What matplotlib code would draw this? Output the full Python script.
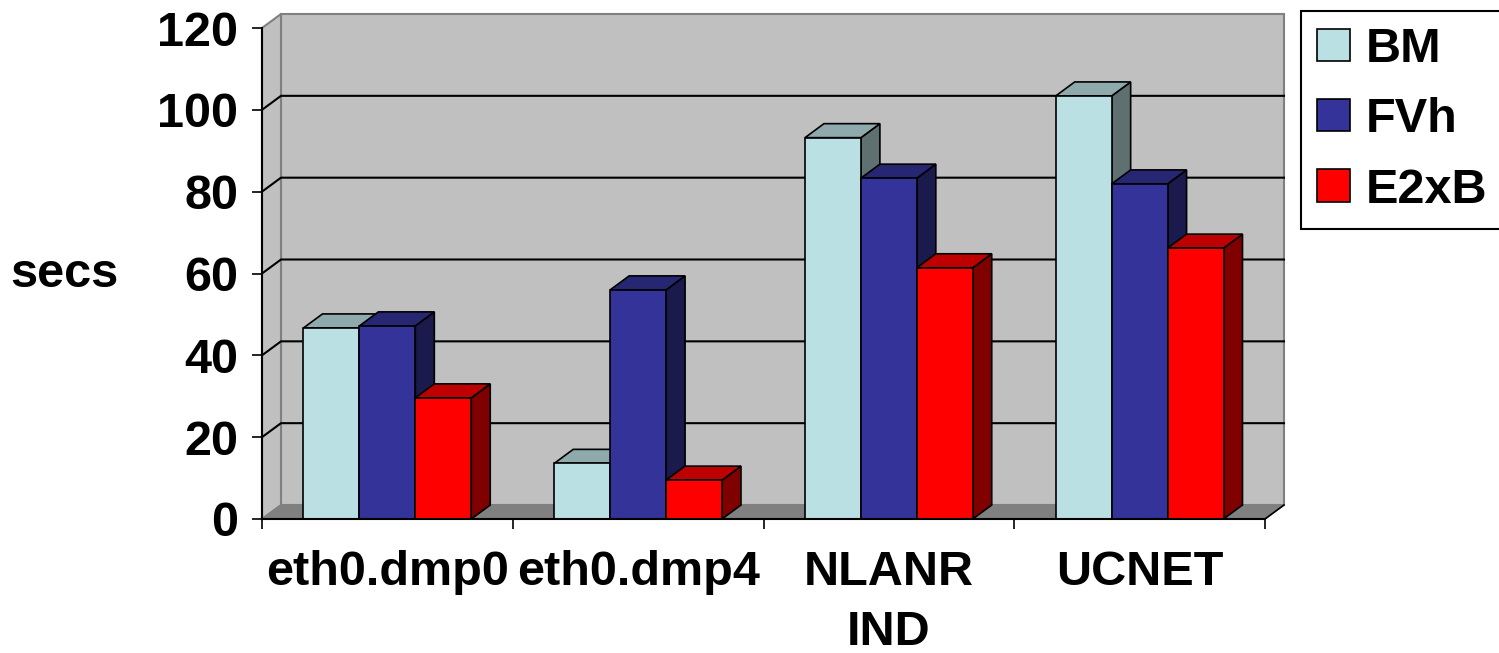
import numpy as np
import matplotlib.pyplot as plt
from matplotlib.patches import Polygon

categories = ['eth0.dmp0', 'eth0.dmp4', 'NLANR\nIND', 'UCNET']
series = ['BM', 'FVh', 'E2xB']
bm = [46.7, 13.6, 93.2, 103.4]
fvh = [47.2, 56.0, 83.3, 81.9]
e2xb = [29.6, 9.5, 61.4, 66.2]
yticks = [0, 20, 40, 60, 80, 100, 120]

front_col = ['#BBE0E3', '#333399', '#FF0000']
top_col = ['#8FAAAD', '#262673', '#BF0000']
side_col = ['#5F7070', '#1A1A4D', '#800000']

plt.rcParams['font.family'] = ['Liberation Sans', 'DejaVu Sans']
plt.rcParams['font.weight'] = 'bold'
plt.rcParams['axes.labelweight'] = 'bold'
plt.rcParams['font.size'] = 35

fig = plt.figure(figsize=(14.99, 6.53), dpi=100)
ax = fig.add_axes([262 / 1499, 1 - 519 / 653, 1003 / 1499, 491 / 653])
ax.set_xlim(-0.5, 3.5)
ax.set_ylim(0, 120)
ax.patch.set_visible(False)

# depth of the fake 3d box, in data units
dx, dy = 0.0757, 3.42
x0, x1 = -0.5, 3.5
ymax = yticks[-1]

# back wall, side wall, floor
ax.add_patch(Polygon([(x0 + dx, dy), (x1 + dx, dy), (x1 + dx, ymax + dy), (x0 + dx, ymax + dy)],
                     fc='#C0C0C0', ec='#808080', lw=1.5, clip_on=False, zorder=0.5))
ax.add_patch(Polygon([(x0, 0), (x0 + dx, dy), (x0 + dx, ymax + dy), (x0, ymax)],
                     fc='#C0C0C0', ec='#808080', lw=1.5, clip_on=False, zorder=0.5))
ax.add_patch(Polygon([(x0, 0), (x1, 0), (x1 + dx, dy), (x0 + dx, dy)],
                     fc='#808080', ec='#808080', lw=1, clip_on=False, zorder=0.55))
ax.plot([x1, x1 + dx], [0, dy], color='black', lw=1.2, clip_on=False, zorder=0.6)

# gridlines on the walls
for v in yticks[1:-1]:
    ax.plot([x0, x0 + dx, x1 + dx], [v, v + dy, v + dy], color='black', lw=1.5,
            clip_on=False, zorder=0.6)

x = np.arange(len(categories))
w = 0.223
vals = [bm, fvh, e2xb]
for j, name in enumerate(series):
    xl = x + (j - 1.5) * w
    z = 2 + j
    for xi, h in zip(xl, vals[j]):
        ax.add_patch(Polygon([(xi + w, 0), (xi + w + dx, dy), (xi + w + dx, h + dy), (xi + w, h)],
                             fc=side_col[j], ec='black', lw=1.2, zorder=z, clip_on=False))
        ax.add_patch(Polygon([(xi, h), (xi + w, h), (xi + w + dx, h + dy), (xi + dx, h + dy)],
                             fc=top_col[j], ec='black', lw=1.2, zorder=z, clip_on=False))
    ax.bar(xl, vals[j], w, align='edge', color=front_col[j], edgecolor='black', lw=1.2,
           zorder=z + 0.5, label=name)

for s in ['top', 'right']:
    ax.spines[s].set_visible(False)
for s in ['left', 'bottom']:
    ax.spines[s].set_linewidth(1.5)
    ax.spines[s].set_zorder(10)

ax.set_yticks(yticks)
ax.tick_params(axis='y', length=7, width=1.2, pad=10)
ax.set_xticks(np.arange(-0.5, 4, 1))
ax.set_xticklabels([])
ax.tick_params(axis='x', which='major', length=7, width=1.2)
ax.set_xticks(x, categories, minor=True)
ax.tick_params(axis='x', which='minor', length=0, pad=22)
for lab in ax.get_xticklabels(minor=True):
    lab.set_linespacing(1.45)

ax.set_ylabel('secs', rotation=0, ha='center', va='center', fontweight='bold')
ax.yaxis.set_label_coords(-0.197, 0.497)

leg = ax.legend(loc='upper left', bbox_to_anchor=(1301 / 1499, 1 - 11 / 653),
                bbox_transform=fig.transFigure, fancybox=False, edgecolor='black',
                framealpha=1, borderaxespad=0, handlelength=0.68, handleheight=0.64,
                handletextpad=0.33, labelspacing=0.52, borderpad=0.33)
leg.get_frame().set_linewidth(1.5)

plt.savefig('out.png', dpi=100)
